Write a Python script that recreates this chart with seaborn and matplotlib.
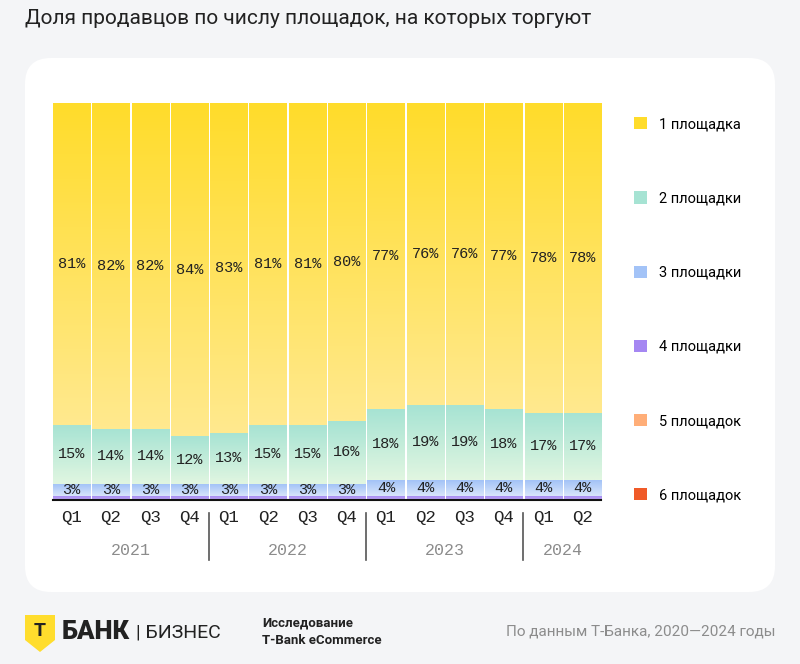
import numpy as np
import pandas as pd
import seaborn as sns
import matplotlib.pyplot as plt
import matplotlib.transforms as mtransforms
from matplotlib.patches import FancyBboxPatch, Patch, Polygon
from matplotlib.colors import to_rgba

# data
years = ['2021'] * 4 + ['2022'] * 4 + ['2023'] * 4 + ['2024'] * 2
quarters = ['Q1', 'Q2', 'Q3', 'Q4'] * 3 + ['Q1', 'Q2']
one = [81, 82, 82, 84, 83, 81, 81, 80, 77, 76, 76, 77, 78, 78]
two = [15, 14, 14, 12, 13, 15, 15, 16, 18, 19, 19, 18, 17, 17]
three = [3, 3, 3, 3, 3, 3, 3, 3, 4, 4, 4, 4, 4, 4]
four = [0.8] * 14
five = [0.15] * 14
six = [0.05] * 14
series = ['1 площадка', '2 площадки', '3 площадки', '4 площадки', '5 площадок', '6 площадок']

# top / bottom colours of each gradient segment
grads = [('#FFDC2B', '#FFE98E'), ('#A6E3D3', '#E1F6E1'), ('#A3C3F7', '#D8E5FB'),
         ('#A587F2', '#B9A2F5'), ('#FFAE78', '#FFCBA0'), ('#F05A28', '#F48A5E')]

MONO = ['Liberation Mono', 'DejaVu Sans Mono']

labels = [y + ' ' + q for y, q in zip(years, quarters)]
df = pd.DataFrame({'period': labels, 's1': one, 's2': two, 's3': three,
                   's4': four, 's5': five, 's6': six})
cols = ['s6', 's5', 's4', 's3', 's2', 's1']  # bottom to top

BG = '#F4F5F7'
W, H = 800, 664
fig = plt.figure(figsize=(W / 100, H / 100), dpi=100)
fig.patch.set_facecolor(BG)

def px(x, y):
    return x / W, 1 - y / H

# white card
card = FancyBboxPatch((25, H - 592), 750, 534, boxstyle='round,pad=0,rounding_size=26',
                      transform=mtransforms.IdentityTransform(), facecolor='white',
                      edgecolor='none', zorder=-1)
fig.patches.append(card)

ax = fig.add_axes([53 / W, 1 - 500 / H, 548 / W, 397 / H])
ax.set_facecolor('none')

def gradient(ax, patch, c_top, c_bot):
    x, y = patch.get_x(), patch.get_y()
    w, h = patch.get_width(), patch.get_height()
    t = np.linspace(0, 1, 64)[:, None, None]
    img = np.array(to_rgba(c_top)) * (1 - t) + np.array(to_rgba(c_bot)) * t
    ax.imshow(img, extent=[x, x + w, y, y + h], origin='upper', aspect='auto',
              interpolation='bilinear', zorder=2)

bottom = np.zeros(len(df))
containers = {}
for c in cols:
    i = int(c[1]) - 1
    sns.barplot(data=df, x='period', y=c, bottom=bottom.copy(), color=grads[i][0],
                width=0.945, saturation=1, errorbar=None, linewidth=0, ax=ax)
    cont = ax.containers[-1]
    containers[c] = cont
    for p in cont.patches:
        gradient(ax, p, *grads[i])
    bottom += df[c].values

for c in ['s1', 's2', 's3']:
    vals = df[c].values
    cont = containers[c]
    for p, v in zip(cont.patches, vals):
        ax.text(p.get_x() + p.get_width() / 2, p.get_y() + p.get_height() / 2,
                f'{v:.0f}%', ha='center', va='center', fontsize=11,
                family=MONO, color='#222222', zorder=5)

ax.set_xlim(-0.4725, len(df) - 0.5275)
ax.set_ylim(0, 100)
ax.set_yticks([])
ax.set_ylabel('')
ax.set_xlabel('')
for s in ['top', 'right', 'left']:
    ax.spines[s].set_visible(False)
ax.spines['bottom'].set_color('#111111')
ax.spines['bottom'].set_linewidth(1.5)
ax.spines['bottom'].set_zorder(6)
ax.set_xticks(range(len(df)))
ax.set_xticklabels(quarters, family=MONO, fontsize=12.5, color='#222222')
ax.tick_params(axis='x', length=0, pad=7)

trans = mtransforms.blended_transform_factory(ax.transData, ax.transAxes)
year_names = ['2021', '2022', '2023', '2024']
for yr in year_names:
    idx = [k for k, y in enumerate(years) if y == yr]
    ax.text(np.mean(idx), -0.128, yr, transform=trans, ha='center', va='center',
            family=MONO, fontsize=12, color='#8C8C8C')
for xs in [3.5, 7.5, 11.5]:
    ax.plot([xs, xs], [-0.033, -0.152], transform=trans, color='#555555', lw=1.2,
            clip_on=False)

# legend
handles = [Patch(facecolor=grads[i][0], edgecolor='none') for i in range(6)]
fig.legend(handles, series, loc='upper left', bbox_to_anchor=px(627, 110),
           frameon=False, handlelength=0.9, handleheight=0.9,
           handletextpad=0.8, labelspacing=4.12, borderpad=0,
           prop={'family': 'Roboto', 'size': 10.5})

# title
fig.text(*px(25, 19), 'Доля продавцов по числу площадок, на которых торгуют',
         ha='left', va='center', fontsize=15, color='#222222', family='Roboto')

# footer
shield = Polygon([px(25, 615), px(55, 615), px(55, 640), px(40, 652), px(25, 640)],
                 closed=True, transform=fig.transFigure, facecolor='#FFDD2D',
                 edgecolor='none')
fig.patches.append(shield)
fig.text(*px(40, 631), 'T', ha='center', va='center', fontsize=14, fontweight='bold',
         color='#222222', family='Roboto')
fig.text(*px(62, 632), 'БАНК', ha='left', va='center', fontsize=18.5, fontweight='black',
         color='#222222', family='Roboto')
fig.text(*px(136, 632), '| БИЗНЕС', ha='left', va='center', fontsize=14,
         color='#222222', family='Roboto')
fig.text(*px(262, 623), 'Исследование', ha='left', va='center', fontsize=9.5,
         fontweight='bold', color='#222222', family='Roboto')
fig.text(*px(262, 641), 'T-Bank eCommerce', ha='left', va='center', fontsize=9.5,
         fontweight='bold', color='#222222', family='Roboto')
fig.text(*px(775, 632), 'По данным Т-Банка, 2020—2024 годы', ha='right', va='center',
         fontsize=11, color='#8C8C8C', family='Roboto')

fig.savefig('out.png', dpi=100, facecolor=BG)
